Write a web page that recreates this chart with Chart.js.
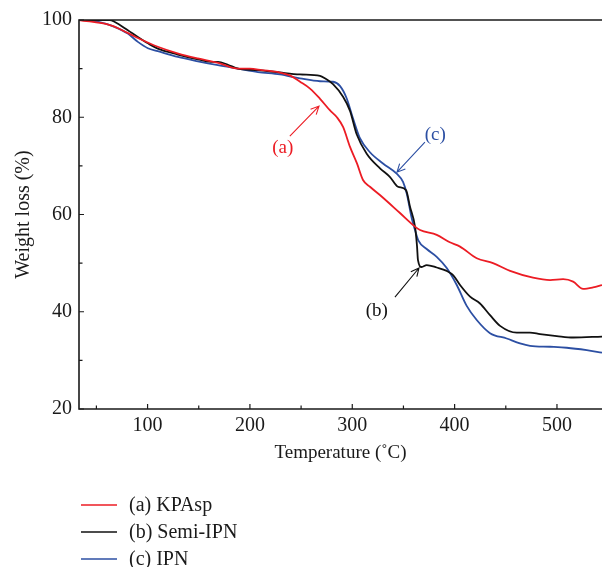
<!DOCTYPE html>
<html>
<head>
<meta charset="utf-8">
<script src="https://cdn.jsdelivr.net/npm/chart.js@4.4.1/dist/chart.umd.min.js"></script>
<style>
  html, body { margin: 0; padding: 0; background: #fff; }
  #wrap { position: relative; width: 602px; height: 567px; }
</style>
</head>
<body>
<div id="wrap"><canvas id="tgaChart" width="602" height="567"></canvas></div>
<script>
// TGA curves: temperature (°C) vs remaining weight (%)
const kpaspTemp = [33, 64, 81, 90.5, 110, 130, 149, 169, 188.5, 200, 211.7, 229.3, 239, 249, 258.7, 268.5, 278.3, 285, 291, 297.8, 304.6, 310.5, 317.3, 327, 346.6, 361.3, 366.2, 382.5, 395.3, 405.3, 421.6, 437.5, 454.2, 476.6, 493.3, 506, 515.8, 525.5, 535.3, 544];
const kpaspWeight = [100, 98.9, 97.3, 96.3, 94.5, 93.1, 92.1, 91.2, 90.0, 90.0, 89.7, 89.2, 88.6, 87.3, 85.9, 83.8, 81.4, 80.0, 78.0, 73.9, 70.5, 67.1, 65.7, 64.0, 60.3, 57.5, 56.8, 55.8, 54.3, 53.4, 51.0, 50.0, 48.4, 47.0, 46.5, 46.7, 46.2, 44.7, 45.0, 45.5];

const semiTemp = [33, 63, 68, 80.7, 90.5, 100.3, 110, 129.6, 149.2, 161.9, 168.7, 178.5, 188.3, 207.8, 229.3, 248.9, 268.5, 273.3, 281.2, 291, 297.8, 304.3, 314.1, 327.1, 336.9, 344.7, 352.5, 356.4, 361.3, 363.3, 364.2, 367.8, 372.7, 382.5, 392.3, 398.7, 405.3, 415.1, 424.8, 434.6, 444.4, 460.7, 473.6, 483.5, 499.8, 515.8, 544];
const semiWeight = [100, 100, 99.6, 97.9, 96.5, 95.2, 94.1, 92.9, 91.9, 91.4, 91.4, 90.8, 90.0, 89.7, 89.2, 88.8, 88.5, 88.0, 86.8, 84.2, 81.3, 76.5, 72.5, 69.5, 67.7, 65.7, 65.0, 61.6, 57.5, 53.4, 50.6, 49.2, 49.6, 49.1, 48.4, 47.5, 45.5, 43.1, 41.7, 39.3, 37.1, 35.7, 35.7, 35.4, 35.0, 34.7, 34.9];

const ipnTemp = [33, 45.6, 58, 67.7, 80.7, 90.5, 100.3, 110, 129.6, 149.2, 168.7, 188.3, 207.8, 229.3, 248.9, 268.5, 281.2, 288.1, 294.5, 300.7, 307.5, 317.3, 330, 343.4, 349.6, 353.2, 358.1, 361.3, 364.5, 372.7, 382.5, 392.3, 402.1, 411.8, 421.6, 434.6, 450.9, 463.9, 473.7, 493.2, 509.6, 529.1, 544];
const ipnWeight = [100, 99.9, 99.3, 98.6, 97.2, 95.5, 94.2, 93.6, 92.4, 91.5, 90.7, 90.0, 89.3, 88.8, 88.0, 87.4, 87.3, 86.4, 83.9, 79.8, 75.7, 72.8, 70.5, 68.4, 66.7, 64.3, 59.2, 56.8, 54.7, 52.9, 51.3, 49.0, 45.5, 41.2, 38.3, 35.6, 34.5, 33.5, 33.0, 32.8, 32.6, 32.1, 31.6];

const seriesNames = ['(a) KPAsp', '(b) Semi-IPN', '(c) IPN'];
const seriesColors = ['#ec1c24', '#111111', '#2c4fa3'];

const xTicks = [100, 200, 300, 400, 500];
const xMinorTicks = [50, 150, 250, 350, 450];
const yTicks = [20, 40, 60, 80, 100];
const yMinorTicks = [30, 50, 70, 90];

// curve callouts: text spot, arrow tail and arrow head (data units)
const calloutText = ['(a)', '(b)', '(c)'];
const calloutAt = [[232, 73.6], [324, 40.1], [381, 76.3]];
const arrowFrom = [[239, 76.1], [341.7, 43.0], [371, 74.9]];
const arrowTo = [[267.5, 82.3], [365.2, 49.0], [343.7, 68.7]];

const serif = "'Liberation Serif', 'Times New Roman', serif";
const ink = '#1a1a1a';

function toPoints(xs, ys) {
    return xs.map((x, i) => ({ x: x, y: ys[i] }));
}

const frameAndNotes = {
    id: 'frameAndNotes',
    afterDatasetsDraw(chart) {
        const { ctx, chartArea: a, scales: { x, y } } = chart;
        ctx.save();
        ctx.strokeStyle = ink;
        ctx.lineWidth = 1.6;
        ctx.beginPath();
        ctx.moveTo(a.right + 2, a.top);
        ctx.lineTo(a.left, a.top);
        ctx.lineTo(a.left, a.bottom);
        ctx.lineTo(a.right + 2, a.bottom);
        ctx.stroke();

        // inward ticks
        ctx.lineWidth = 1.2;
        ctx.beginPath();
        xTicks.forEach(v => { const px = x.getPixelForValue(v); ctx.moveTo(px, a.bottom); ctx.lineTo(px, a.bottom - 5); });
        xMinorTicks.forEach(v => { const px = x.getPixelForValue(v); ctx.moveTo(px, a.bottom); ctx.lineTo(px, a.bottom - 3.5); });
        yTicks.forEach(v => { const py = y.getPixelForValue(v); ctx.moveTo(a.left, py); ctx.lineTo(a.left + 5, py); });
        yMinorTicks.forEach(v => { const py = y.getPixelForValue(v); ctx.moveTo(a.left, py); ctx.lineTo(a.left + 3.5, py); });
        ctx.stroke();

        // callouts with open arrowheads
        ctx.font = '19px ' + serif;
        ctx.textAlign = 'center';
        ctx.textBaseline = 'middle';
        ctx.lineWidth = 1.1;
        calloutText.forEach((t, i) => {
            ctx.fillStyle = seriesColors[i];
            ctx.strokeStyle = seriesColors[i];
            ctx.fillText(t, x.getPixelForValue(calloutAt[i][0]), y.getPixelForValue(calloutAt[i][1]));
            const x0 = x.getPixelForValue(arrowFrom[i][0]), y0 = y.getPixelForValue(arrowFrom[i][1]);
            const x1 = x.getPixelForValue(arrowTo[i][0]), y1 = y.getPixelForValue(arrowTo[i][1]);
            const ang = Math.atan2(y1 - y0, x1 - x0);
            ctx.beginPath();
            ctx.moveTo(x0, y0);
            ctx.lineTo(x1, y1);
            ctx.moveTo(x1 - 9 * Math.cos(ang - 0.45), y1 - 9 * Math.sin(ang - 0.45));
            ctx.lineTo(x1, y1);
            ctx.lineTo(x1 - 9 * Math.cos(ang + 0.45), y1 - 9 * Math.sin(ang + 0.45));
            ctx.stroke();
        });

        // legend below the plot
        ctx.textAlign = 'left';
        ctx.font = '20px ' + serif;
        seriesNames.forEach((name, i) => {
            const ly = 505 + i * 27;
            ctx.strokeStyle = seriesColors[i];
            ctx.lineWidth = 1.5;
            ctx.beginPath();
            ctx.moveTo(81, ly);
            ctx.lineTo(117, ly);
            ctx.stroke();
            ctx.fillStyle = ink;
            ctx.fillText(name, 129, ly + 1);
        });
        ctx.restore();
    }
};

document.addEventListener('DOMContentLoaded', function() {
    const ctx = document.getElementById('tgaChart');
    new Chart(ctx, {
        type: 'line',
        data: {
            datasets: [
                { label: seriesNames[0], data: toPoints(kpaspTemp, kpaspWeight), borderColor: seriesColors[0] },
                { label: seriesNames[1], data: toPoints(semiTemp, semiWeight), borderColor: seriesColors[1] },
                { label: seriesNames[2], data: toPoints(ipnTemp, ipnWeight), borderColor: seriesColors[2] }
            ]
        },
        options: {
            responsive: false,
            animation: false,
            devicePixelRatio: 1,
            parsing: false,
            layout: { padding: { left: 0, top: 20, right: 0, bottom: 98 } },
            elements: {
                point: { radius: 0 },
                line: { borderWidth: 1.8, cubicInterpolationMode: 'monotone', fill: false }
            },
            scales: {
                x: {
                    type: 'linear',
                    min: 33,
                    max: 544,
                    afterBuildTicks: axis => { axis.ticks = xTicks.map(v => ({ value: v })); },
                    afterFit: axis => { axis.height = 60; },
                    grid: { display: false, drawTicks: false },
                    border: { display: false },
                    ticks: { color: ink, padding: 5, font: { family: serif, size: 20 } },
                    title: {
                        display: true,
                        text: 'Temperature (˚C)',
                        color: ink,
                        padding: { top: 0, bottom: 5 },
                        font: { family: serif, size: 19 }
                    }
                },
                y: {
                    min: 20,
                    max: 100,
                    afterBuildTicks: axis => { axis.ticks = yTicks.map(v => ({ value: v })); },
                    afterFit: axis => { axis.width = 79; },
                    grid: { display: false, drawTicks: false },
                    border: { display: false },
                    ticks: { color: ink, padding: 7, font: { family: serif, size: 20 } },
                    title: {
                        display: true,
                        text: 'Weight loss (%)',
                        color: ink,
                        padding: { top: 12, bottom: 0 },
                        font: { family: serif, size: 20 }
                    }
                }
            },
            plugins: {
                legend: { display: false },
                tooltip: { enabled: false }
            }
        },
        plugins: [frameAndNotes]
    });
});
</script>
</body>
</html>
